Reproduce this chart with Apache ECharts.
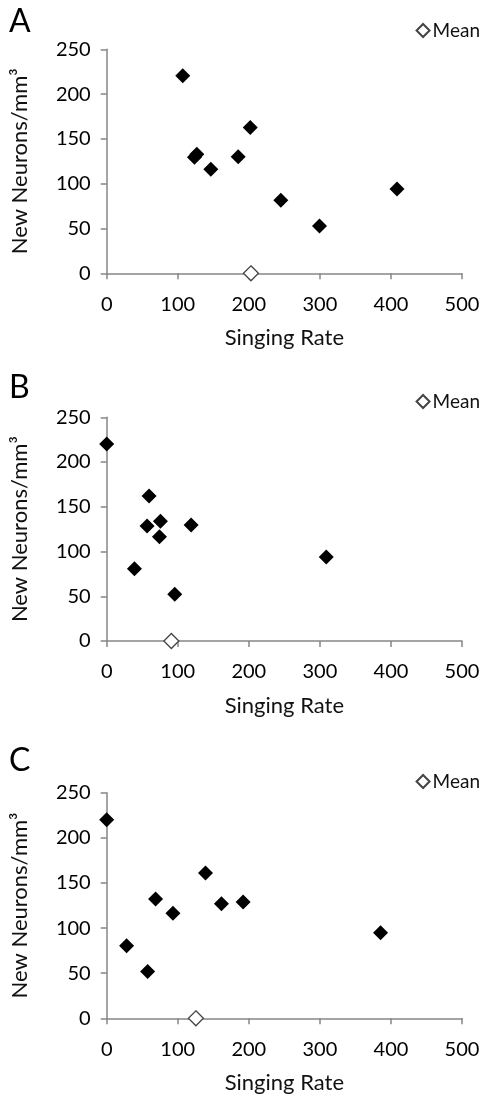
<!DOCTYPE html>
<html>
<head>
<meta charset="utf-8">
<script src="https://cdn.jsdelivr.net/npm/echarts@6/dist/echarts.min.js"></script>
<style>
  html, body { margin: 0; padding: 0; background: #fff; }
  #chart { width: 487px; height: 1097px; }
</style>
</head>
<body>
<div id="chart"></div>
<script>
// singing rate (x) and new neurons/mm3 (y), one pair of arrays per panel
const ratesA = [107, 123.5, 126.8, 146.5, 185, 202, 245, 299.5, 408.5];
const neuronsA = [220.6, 129.5, 132.8, 116, 130, 162.6, 81.5, 52.8, 94];
const ratesB = [0, 59.6, 56.8, 75.6, 74.2, 118.8, 39, 95.8, 309];
const neuronsB = [220.2, 162, 128.5, 133.8, 116.6, 129.7, 80.8, 52.2, 93.9];
const ratesC = [0, 28, 57.6, 68.8, 93.2, 139, 161.5, 192, 385.4];
const neuronsC = [220, 80.5, 52, 132.2, 116.3, 161, 127, 128.9, 94.9];
const meanRates = [203, 91, 125.5];
const panelLetters = ['A', 'B', 'C'];

const FONT = 'Lato';
const axisGray = '#868686';

const panels = [
  { x: ratesA, y: neuronsA, top: 49.3, bottom: 273.3, letterY: 6, legendY: 16 },
  { x: ratesB, y: neuronsB, top: 417.3, bottom: 641, letterY: 372, legendY: 387 },
  { x: ratesC, y: neuronsC, top: 792.7, bottom: 1018.3, letterY: 745, legendY: 767 }
];

const grids = [], xAxes = [], yAxes = [], series = [], legends = [], graphics = [];

panels.forEach(function (p, i) {
  grids.push({ left: 106.7, right: 25, top: p.top, height: p.bottom - p.top });
  xAxes.push({
    gridIndex: i, type: 'value', min: 0, max: 500, interval: 100,
    name: 'Singing Rate', nameLocation: 'middle', nameGap: 54,
    nameTextStyle: { fontFamily: FONT, fontSize: 22, color: '#111' },
    axisLine: { lineStyle: { color: axisGray, width: 1.5 } },
    axisTick: { show: true, length: 6, lineStyle: { color: axisGray, width: 1.5 } },
    axisLabel: { fontFamily: FONT, fontSize: 20, color: '#000', margin: 21 },
    splitLine: { show: false }
  });
  yAxes.push({
    gridIndex: i, type: 'value', min: 0, max: 250, interval: 50,
    name: 'New Neurons/mm³', nameLocation: 'middle', nameRotate: 90, nameGap: 76,
    nameTextStyle: { fontFamily: FONT, fontSize: 22, color: '#111' },
    axisLine: { show: true, lineStyle: { color: axisGray, width: 1.5 } },
    axisTick: { show: true, length: 6, lineStyle: { color: axisGray, width: 1.5 } },
    axisLabel: { fontFamily: FONT, fontSize: 20, color: '#000', margin: 16 },
    splitLine: { show: false }
  });
  series.push({
    name: 'Birds', type: 'scatter', xAxisIndex: i, yAxisIndex: i,
    symbol: 'diamond', symbolSize: 15,
    itemStyle: { color: '#000', opacity: 1 },
    data: p.x.map(function (v, k) { return [v, p.y[k]]; })
  });
  series.push({
    name: 'Mean', type: 'scatter', xAxisIndex: i, yAxisIndex: i,
    symbol: 'diamond', symbolSize: 15, z: 5,
    itemStyle: { color: '#fff', borderColor: '#444', borderWidth: 1.3, opacity: 1 },
    data: [[meanRates[i], 0]]
  });
  legends.push({
    data: ['Mean'], right: 2, top: p.legendY,
    itemWidth: 13, itemHeight: 13, itemGap: 4,
    textStyle: { fontFamily: FONT, fontSize: 19, color: '#111', padding: [0, 0, 0, -2] },
    selectedMode: false
  });
  graphics.push({
    type: 'text', left: 9, top: p.letterY,
    style: { text: panelLetters[i], font: '32px ' + FONT, fill: '#000' }
  });
});

const chart = echarts.init(document.getElementById('chart'));
chart.setOption({
  animation: false,
  backgroundColor: '#fff',
  grid: grids,
  xAxis: xAxes,
  yAxis: yAxes,
  legend: legends,
  graphic: graphics,
  series: series
});
</script>
</body>
</html>
